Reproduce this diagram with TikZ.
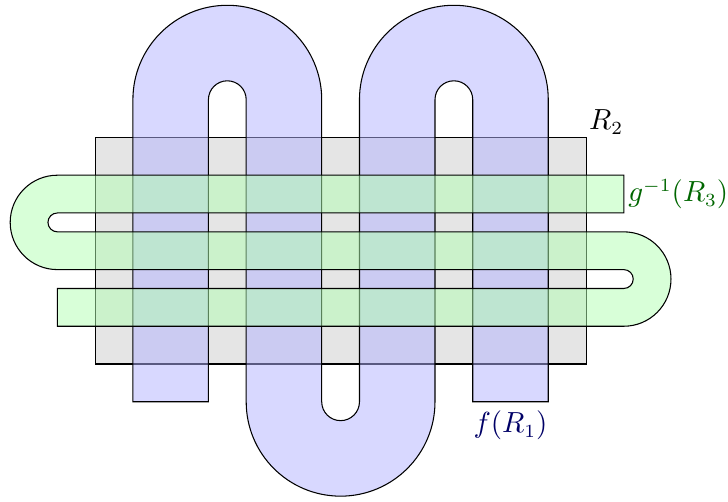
\documentclass[tikz,border=0pt]{standalone}
\begin{document}
\begin{tikzpicture}[scale=0.5,
  outline/.style={draw=black, line width=0.4pt},
  grayreg/.style={outline, fill=gray!20},
  bluereg/.style={outline, fill=blue!30, fill opacity=0.5},
  greenreg/.style={outline, fill=green!30, fill opacity=0.5},
  lab/.style={inner sep=1.5pt, font=\fontsize{10.7}{13}\selectfont}]
\useasboundingbox (-2.52,-3.63) rectangle (16.76,9.64);
% R2
\path[grayreg] (0,0) rectangle (13,6);
% f(R1)
\path[bluereg] (1,-1) -- (1,7) arc[start angle=180,end angle=0,radius=2.5]
  -- (6,-1) arc[start angle=180,end angle=360,radius=0.5]
  -- (7,7) arc[start angle=180,end angle=0,radius=2.5]
  -- (12,-1) -- (10,-1)
  -- (10,7) arc[start angle=0,end angle=180,radius=0.5]
  -- (9,-1) arc[start angle=0,end angle=-180,radius=2.5]
  -- (4,7) arc[start angle=0,end angle=180,radius=0.5]
  -- (3,-1) -- cycle;
% g^{-1}(R3)
\path[greenreg] (14,5) -- (-1,5) arc[start angle=90,end angle=270,radius=1.25]
  -- (14,2.5) arc[start angle=90,end angle=-90,radius=0.25]
  -- (-1,2) -- (-1,1)
  -- (14,1) arc[start angle=-90,end angle=90,radius=1.25]
  -- (-1,3.5) arc[start angle=270,end angle=90,radius=0.25]
  -- (14,4) -- cycle;
\node[lab, anchor=south west, inner sep=1pt] (r2) at (13,6) {$R_2$};
\node[lab, anchor=west, text=green!40!black] (g3) at (14,4.5) {$g^{-1}(R_3)$};
\node[lab, anchor=north, inner sep=3.33pt, text=blue!40!black] (f1) at (11,-1) {$f(R_1)$};
\end{tikzpicture}
\end{document}
